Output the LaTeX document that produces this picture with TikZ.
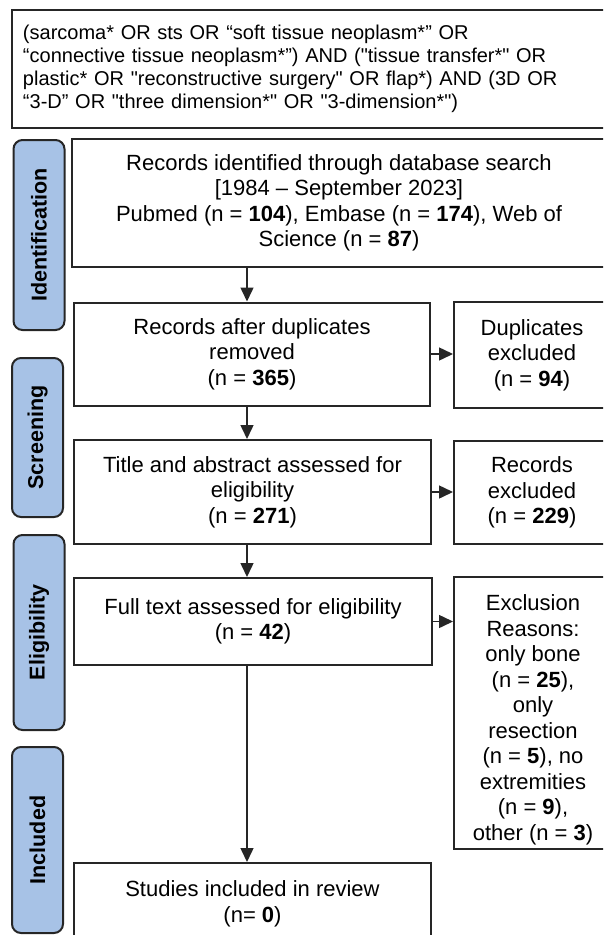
\documentclass[tikz,border=0pt]{standalone}
\usepackage{fontspec}
\setmainfont{Liberation Sans}[Ligatures=TeXOff]
\usetikzlibrary{arrows.meta}
\definecolor{stageblue}{RGB}{167,194,230}
\definecolor{edgegray}{RGB}{38,38,38}
\tikzset{
  box/.style={draw=edgegray, line width=2pt, align=center, inner sep=4pt,
    font=\fontsize{22}{25.5}\selectfont},
  stagebox/.style={draw=edgegray, fill=stageblue, line width=2pt, rounded corners=9pt,
    rotate=90, minimum height=51pt, font=\fontsize{21.5}{24}\selectfont\bfseries},
  flow/.style={draw=edgegray, line width=1.5pt, -{Triangle[length=14pt,width=13pt]}}
}
\begin{document}
\begin{tikzpicture}[x=1pt,y=-1pt]
  \useasboundingbox (0,0) rectangle (603,935);
  \clip (0,0) rectangle (603,935);
  \node[box, anchor=west, align=left, minimum width=599pt, minimum height=118pt,
    text width=577pt, inner xsep=11pt, font=\fontsize{20}{23}\selectfont] (query) at (11,69)
    {(sarcoma* OR sts OR “soft tissue neoplasm*” OR\\
     “connective tissue neoplasm*”) AND ("tissue transfer*" OR\\
     plastic* OR "reconstructive surgery" OR flap*) AND (3D OR\\
     “3-D” OR "three dimension*" OR "3-dimension*")};
  \node[stagebox, minimum width=190pt] (identlab) at (39,235) {Identification};
  \node[stagebox, minimum width=159pt] (screenlab) at (37.5,437.5) {Screening};
  \node[stagebox, minimum width=195pt] (eliglab) at (39,632.5) {Eligibility};
  \node[stagebox, minimum width=186pt] (incllab) at (37.5,840) {Included};
  \node[box, minimum width=534pt, minimum height=128pt] (ident) at (339,203)
    {Records identified through database search\\
     {[}1984 – September 2023{]}\\
     Pubmed (n = \textbf{104}), Embase (n = \textbf{174}), Web of\\
     Science (n = \textbf{87})};
  \node[box, minimum width=356pt, minimum height=103pt] (dupl) at (252,354)
    {Records after duplicates\\ removed\\ (n = \textbf{365})};
  \node[box, minimum width=156pt, minimum height=106pt] (dupex) at (532,355)
    {Duplicates\\ excluded\\ (n = \textbf{94})};
  \node[box, minimum width=357pt, minimum height=104pt] (title) at (252.5,492)
    {Title and abstract assessed for\\ eligibility\\ (n = \textbf{271})};
  \node[box, minimum width=156pt, minimum height=103pt] (recex) at (532,492.5)
    {Records\\ excluded\\ (n = \textbf{229})};
  \node[box, minimum width=358pt, minimum height=87pt] (full) at (253,621.5)
    {Full text assessed for eligibility\\ (n = \textbf{42})};
  \node[box, minimum width=158pt, minimum height=270pt] (reasons) at (533,713)
    {\rule{0pt}{30pt}Exclusion\\ Reasons:\\ only bone\\ (n = \textbf{25}),\\ only\\ resection\\
     (n = \textbf{5}), no\\ extremities\\ (n = \textbf{9}),\\ other (n = \textbf{3})};
  \node[box, minimum width=357pt, minimum height=82pt] (review) at (252.5,904)
    {Studies included in review\\ (n= \textbf{0})};
  \coordinate (spine) at (247,0);
  \begin{scope}[flow]
    \draw (ident.south -| spine) to (dupl.north -| spine);
    \draw (dupl.south -| spine) to (title.north -| spine);
    \draw (title.south -| spine) to (full.north -| spine);
    \draw (full.south -| spine) to (review.north -| spine);
    \draw (dupl.east) to (dupl.east -| dupex.west);
    \draw (title.east) to (title.east -| recex.west);
    \draw (full.east) to (full.east -| reasons.west);
  \end{scope}
\end{tikzpicture}
\end{document}
